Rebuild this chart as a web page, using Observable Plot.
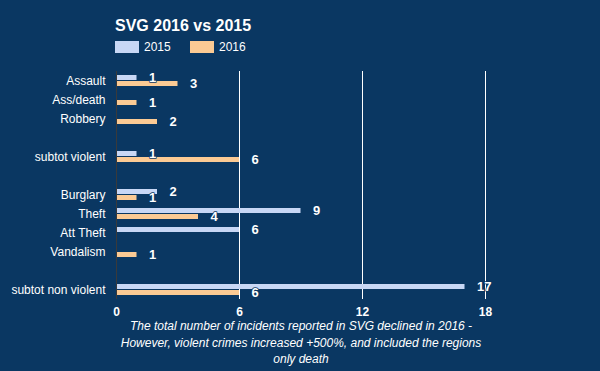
<!DOCTYPE html>
<html>
<head>
<meta charset="utf-8">
<script src="https://cdn.jsdelivr.net/npm/d3@7"></script>
<script src="https://cdn.jsdelivr.net/npm/@observablehq/plot@0.6"></script>
<style>
  html, body { margin: 0; padding: 0; background: #0a3762; }
  body { width: 600px; height: 371px; overflow: hidden; font-family: "Liberation Sans", Arial, sans-serif; color: #fff; }
  #header { position: relative; height: 60px; }
  #title { position: absolute; left: 115px; top: 18px; font-size: 16px; line-height: 16px; font-weight: bold; white-space: nowrap; }
  .sw { position: absolute; top: 41px; width: 24px; height: 12px; }
  .lg { position: absolute; top: 40.5px; font-size: 12px; line-height: 12px; }
  #chart svg { display: block; }
  #caption { width: 600px; padding-left: 2px; box-sizing: border-box; text-align: center; font-size: 12px; line-height: 16.5px; font-style: italic; }
</style>
</head>
<body>
<div id="header">
  <div id="title">SVG 2016 vs 2015</div>
</div>
<div id="chart"></div>
<div id="caption">The total number of incidents reported in SVG declined in 2016 -<br>However, violent crimes increased +500%, and included the regions<br>only death</div>
<script>
const categories = ["Assault", "Ass/death", "Robbery", " ", "subtot violent", "  ", "Burglary", "Theft", "Att Theft", "Vandalism", "   ", "subtot non violent"];
const values2015 = [1, 0, 0, null, 1, null, 2, 9, 6, 0, null, 17];
const values2016 = [3, 1, 2, null, 6, null, 1, 4, 0, 1, null, 6];
const seriesNames = ["2015", "2016"];
const seriesColors = ["#c8d7f5", "#fbca94"];
const xTicks = [0, 6, 12, 18];
const gridTicks = [6, 12, 18];

// legend
const header = document.getElementById("header");
const legendX = [[115, 144], [190, 219]];
seriesNames.forEach((name, i) => {
  const sw = document.createElement("div");
  sw.className = "sw";
  sw.style.left = legendX[i][0] + "px";
  sw.style.background = seriesColors[i];
  header.appendChild(sw);
  const t = document.createElement("div");
  t.className = "lg";
  t.style.left = legendX[i][1] + "px";
  t.textContent = name;
  header.appendChild(t);
});

const rows2015 = categories.map((c, i) => ({cat: c, value: values2015[i]})).filter(d => d.value != null);
const rows2016 = categories.map((c, i) => ({cat: c, value: values2016[i]})).filter(d => d.value != null);
const bg = "#0a3762";

const chart = Plot.plot({
  width: 600,
  height: 258,
  marginTop: 11,
  marginBottom: 19,
  marginLeft: 116,
  marginRight: 115,
  style: {background: "transparent", color: "#fff", fontFamily: "'Liberation Sans', Arial, sans-serif", fontSize: "12px"},
  x: {domain: [0, 18]},
  y: {domain: categories, padding: 0},
  marks: [
    Plot.gridX(gridTicks, {stroke: "#fff", strokeOpacity: 1, strokeWidth: 1}),
    Plot.barX(rows2015, {x: "value", y: "cat", fill: seriesColors[0], insetTop: 4, insetBottom: 10}),
    Plot.barX(rows2016, {x: "value", y: "cat", fill: seriesColors[1], insetTop: 10, insetBottom: 4}),
    Plot.ruleX([0], {stroke: "#3a3a3a", strokeWidth: 1}),
    Plot.text(rows2015.filter(d => d.value > 0), {x: "value", y: "cat", text: d => String(d.value), dy: -3.5, dx: 12, textAnchor: "start", fill: "#fff", fontWeight: "bold", fontSize: 13, stroke: bg, strokeWidth: 1.5}),
    Plot.text(rows2016.filter(d => d.value > 0), {x: "value", y: "cat", text: d => String(d.value), dy: 3, dx: 12, textAnchor: "start", fill: "#fff", fontWeight: "bold", fontSize: 13, stroke: bg, strokeWidth: 1.5}),
    Plot.axisX(xTicks, {tickSize: 0, tickPadding: 8, fontWeight: "bold", fontSize: 12, fill: "#fff", label: null}),
    Plot.axisY({tickSize: 0, tickPadding: 11, fontSize: 12, fill: "#fff", label: null})
  ]
});
document.getElementById("chart").appendChild(chart);
</script>
</body>
</html>
